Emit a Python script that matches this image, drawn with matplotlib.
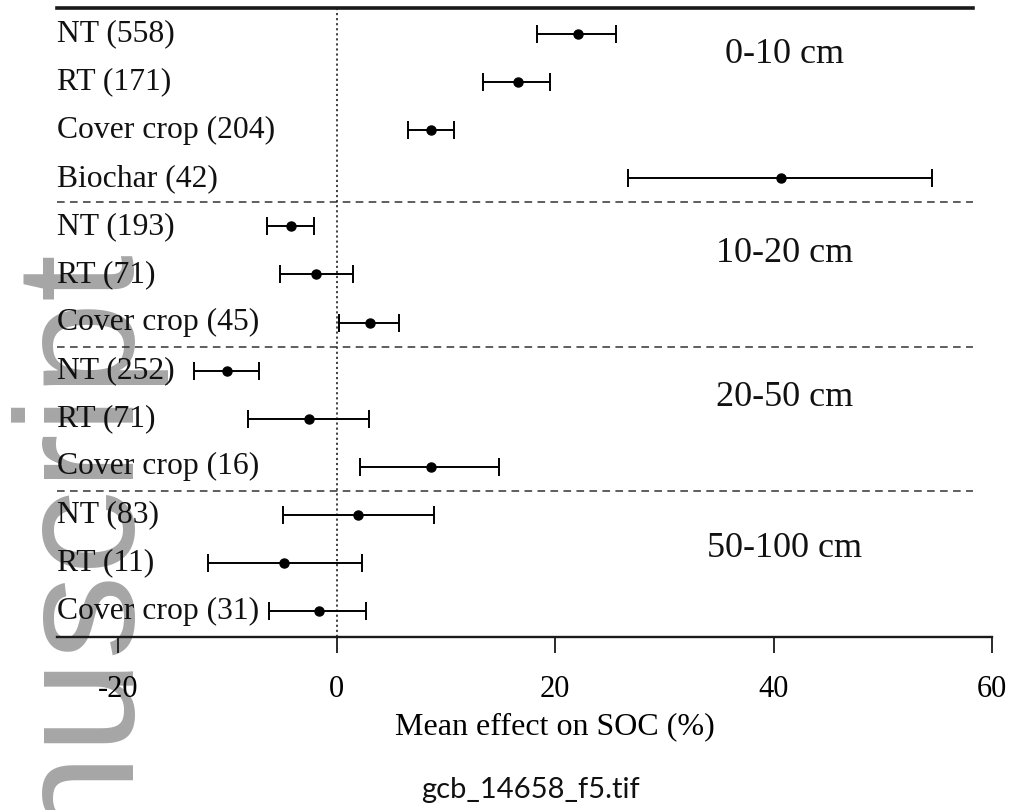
import matplotlib
matplotlib.use("Agg")
import matplotlib.pyplot as plt
import matplotlib.transforms as mtransforms
import numpy as np

# Practices (sample size) grouped by soil depth, top to bottom
labels = ["NT (558)", "RT (171)", "Cover crop (204)", "Biochar (42)",
          "NT (193)", "RT (71)", "Cover crop (45)",
          "NT (252)", "RT (71)", "Cover crop (16)",
          "NT (83)", "RT (11)", "Cover crop (31)"]
# Mean effect on SOC (%) with 95% confidence bounds
means = [22.1, 16.6, 8.6, 40.7,
         -4.2, -1.9, 3.1,
         -10.0, -2.5, 8.6,
         2.0, -4.8, -1.6]
ci_low = [18.3, 13.4, 6.5, 26.7,
          -6.4, -5.2, 0.2,
          -13.1, -8.1, 2.1,
          -4.9, -11.8, -6.2]
ci_high = [25.6, 19.5, 10.7, 54.5,
           -2.1, 1.5, 5.7,
           -7.1, 3.0, 14.9,
           8.9, 2.3, 2.7]
depths = ["0-10 cm", "10-20 cm", "20-50 cm", "50-100 cm"]
group_sizes = [4, 3, 3, 3]
xticks = [-20, 0, 20, 40, 60]

SERIF = "Liberation Serif"
W, H = 1011, 810

fig = plt.figure(figsize=(W / 100, H / 100), dpi=100)
fig.patch.set_facecolor("white")

# faint repository watermark running up the left margin
fig.text(120 / W, 1 - 240 / H, "Manuscript", rotation=90, rotation_mode="anchor",
         ha="right", va="baseline", fontsize=122, family="Liberation Sans",
         color="#a6a6a6", zorder=-1)

ax = fig.add_axes([57 / W, 1 - 637 / H, 935 / W, 629 / H])
ax.set_facecolor("none")

n = len(labels)
y = np.arange(n)
m = np.array(means)
xerr = [m - np.array(ci_low), np.array(ci_high) - m]
ax.errorbar(m, y, xerr=xerr, fmt="o", color="black", ms=6.5,
            elinewidth=1.4, capsize=6.5, capthick=1.4, zorder=4)

ax.set_xlim(-25.6, 60)
ax.set_ylim(n - 1 + 0.54, -0.54)

for s in ("left", "right", "top"):
    ax.spines[s].set_visible(False)
ax.spines["bottom"].set_linewidth(1.7)
ax.spines["bottom"].set_color("#1a1a1a")

ax.set_yticks([])
ax.set_xticks(xticks)
ax.set_xticklabels([str(t) for t in xticks], family=SERIF, fontsize=22)
ax.tick_params(axis="x", direction="out", length=11.5, width=1.3,
               color="#1a1a1a", pad=16)

# top rule, zero line and depth separators
ax.axhline(-0.54, xmin=0, xmax=0.98, color="#1a1a1a", lw=2.6, clip_on=False)
ax.axvline(0, color="#333333", ls=(0, (1.2, 1.6)), lw=1.3, zorder=1)
edges = np.cumsum(group_sizes)[:-1] - 0.5
for b in edges:
    ax.axhline(b, xmin=0, xmax=0.98, color="#333333", ls=(0, (5, 3.5)), lw=1.1)

# row labels at the left edge
lab_tr = mtransforms.blended_transform_factory(ax.transAxes, ax.transData)
for yi, lab in zip(y, labels):
    ax.text(0.0, yi, lab, transform=lab_tr, ha="left", va="center",
            family=SERIF, fontsize=22.8, color="#111111")

# depth titles
starts = np.concatenate([[0], np.cumsum(group_sizes)[:-1]])
depth_offsets = [0.42, 0.57, 0.57, 0.7]
for s0, off, d in zip(starts, depth_offsets, depths):
    ax.text(41, s0 + off, d, ha="center", va="center", family=SERIF,
            fontsize=26, color="#111111")

ax.set_xlabel("Mean effect on SOC (%)", family=SERIF, fontsize=23)
ax.xaxis.set_label_coords((20 - (-25.6)) / 85.6, (637 - 727) / 629)
ax.xaxis.label.set_va("center")

fig.text(530 / W, 1 - 790 / H, "gcb_14658_f5.tif", ha="center", va="center",
         family="Lato", fontsize=21, color="#111111")

fig.savefig("out.png", dpi=100)
